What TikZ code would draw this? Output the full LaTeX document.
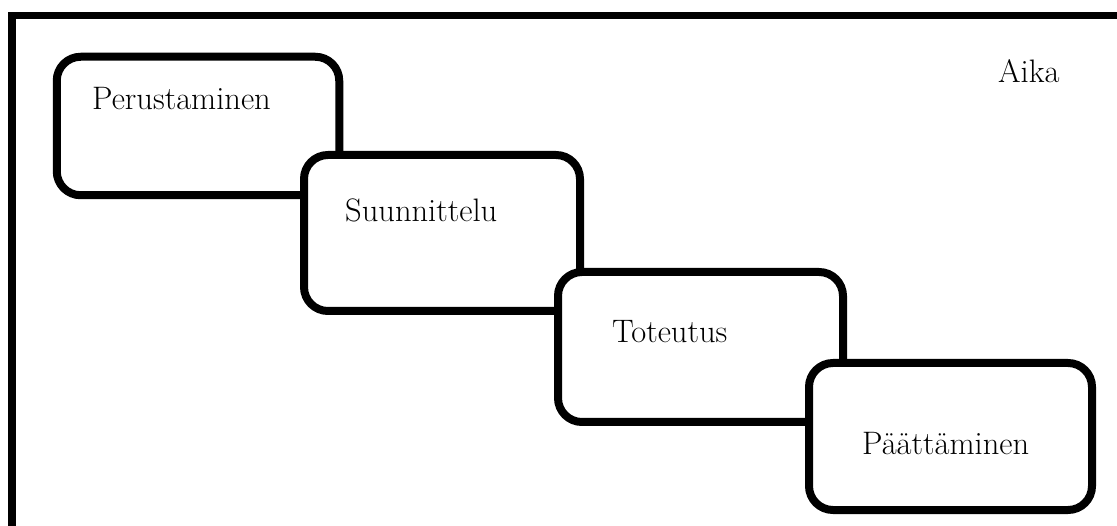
\documentclass[tikz,border=0pt]{standalone}
\begin{document}
\begin{tikzpicture}[x=1pt,y=-1pt,
  phase/.style={draw=black,fill=white,line width=8pt,rounded corners=24pt,inner sep=0pt,outer sep=0pt},
  lbl/.style={anchor=base west,inner sep=0pt,font=\fontsize{32.5}{38}\selectfont}]
\useasboundingbox (0,0) rectangle (1117,526);
\clip (0,0) rectangle (1117,526);
\draw[line width=7.5pt] (12,540) -- (12,15.5) -- (1130,15.5);
\node[phase,minimum width=282.5pt,minimum height=138.5pt] (b1) at (198,126) {};
\node[phase,minimum width=276pt,minimum height=156pt] (b2) at (442,233) {};
\node[phase,minimum width=285pt,minimum height=150pt] (b3) at (700.5,347) {};
\node[phase,minimum width=283pt,minimum height=147pt] (b4) at (950.5,436.5) {};
\node[lbl] (t1) at (92,110) {Perustaminen};
\node[lbl] (t2) at (345,222) {Suunnittelu};
\node[lbl] (t3) at (612,343) {Toteutus};
\node[lbl] (t4) at (862,455) {Päättäminen};
\node[lbl] (aika) at (998,83) {Aika};
\end{tikzpicture}
\end{document}
